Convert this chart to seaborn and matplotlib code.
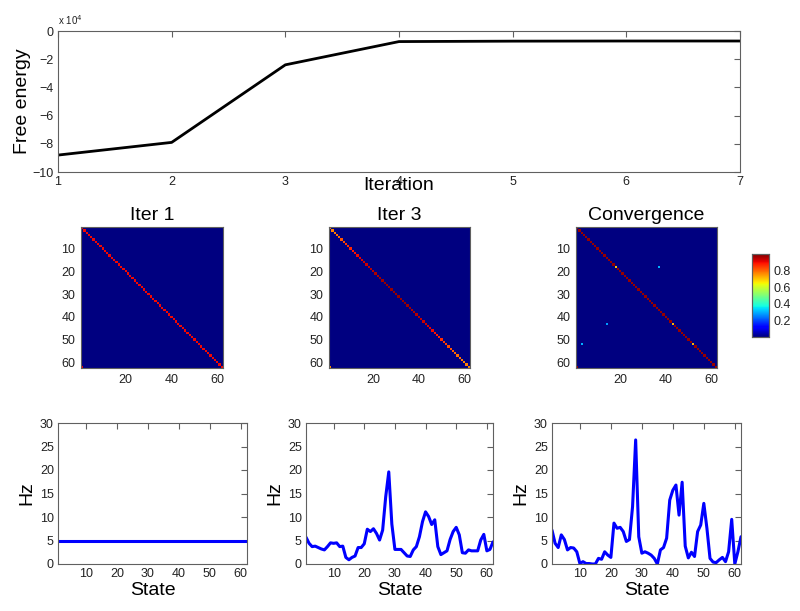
import numpy as np
import pandas as pd
import matplotlib
matplotlib.use("Agg")
import matplotlib.pyplot as plt
import seaborn as sns

# ---------------- data ----------------
iterations = [1, 2, 3, 4, 5, 6, 7]
free_energy = [-88000, -79000, -24000, -7500, -7200, -7100, -7100]

n_states = 62
states = list(range(1, n_states + 1))

hz_iter1 = [5.0] * 62
hz_iter3 = [5.7, 4.4, 3.7, 3.8, 3.5, 3.2, 3.0, 3.7, 4.5, 4.4,
            4.5, 3.7, 3.8, 1.4, 0.9, 1.4, 1.7, 3.5, 3.5, 4.3,
            7.4, 6.9, 7.5, 6.5, 5.1, 7.2, 14.3, 19.6, 8.5, 3.1,
            3.1, 3.1, 2.4, 1.7, 1.6, 3.0, 3.7, 5.8, 9.0, 11.1,
            10.1, 8.4, 9.4, 3.7, 2.0, 2.4, 2.8, 5.2, 6.9, 7.8,
            6.2, 2.4, 2.3, 3.0, 2.8, 2.8, 2.8, 5.1, 6.3, 2.8,
            3.1, 4.7]
hz_conv = [7.2, 4.4, 3.5, 6.2, 5.2, 3.0, 3.5, 3.4, 2.6, 0.1,
           0.5, 0.1, 0.1, 0.0, 0.0, 1.2, 1.0, 2.6, 1.9, 1.4,
           8.7, 7.6, 7.8, 6.9, 4.8, 5.2, 12.2, 26.4, 5.8, 2.3,
           2.6, 2.3, 1.9, 1.2, 0.0, 3.0, 3.5, 5.5, 13.6, 15.7,
           16.8, 10.4, 17.4, 3.8, 1.3, 2.5, 1.6, 6.9, 8.3, 12.9,
           7.6, 1.2, 0.4, 0.3, 0.9, 1.4, 0.5, 2.6, 9.5, 0.0,
           2.6, 5.8]

diag_iter1 = [0.9] * 62
diag_iter3 = [0.76, 0.77, 0.78, 0.79, 0.8, 0.82, 0.83, 0.85, 0.86, 0.87,
              0.88, 0.89, 0.9, 0.91, 0.92, 0.93, 0.93, 0.94, 0.95, 0.95,
              0.96, 0.96, 0.97, 0.97, 0.98, 0.98, 0.98, 0.98, 0.98, 0.98,
              0.98, 0.98, 0.98, 0.98, 0.97, 0.97, 0.96, 0.96, 0.95, 0.95,
              0.94, 0.93, 0.93, 0.92, 0.91, 0.9, 0.89, 0.88, 0.87, 0.86,
              0.85, 0.84, 0.83, 0.82, 0.81, 0.8, 0.79, 0.79, 0.78, 0.77,
              0.77, 0.76]
diag_conv = [0.98] * 62
conv_special_states = [18, 43, 52]
conv_special_diag = [0.7, 0.72, 0.72]
conv_offdiag_rows = [18, 43, 52]
conv_offdiag_cols = [37, 14, 3]
conv_offdiag_vals = [0.3, 0.28, 0.3]
corner_iter1 = 0.9
corner_iter3 = 0.76
corner_conv = 0.98


def build_matrix(diag, corner, rows=(), cols=(), vals=()):
    m = np.zeros((n_states, n_states))
    m[np.arange(n_states), np.arange(n_states)] = diag
    m[n_states - 1, 0] = corner
    for r, c, v in zip(rows, cols, vals):
        m[r - 1, c - 1] = v
    return m


diag_c = list(diag_conv)
for s, v in zip(conv_special_states, conv_special_diag):
    diag_c[s - 1] = v
mat1 = build_matrix(diag_iter1, corner_iter1)
mat3 = build_matrix(diag_iter3, corner_iter3)
matc = build_matrix(diag_c, corner_conv, conv_offdiag_rows, conv_offdiag_cols, conv_offdiag_vals)

# ---------------- style ----------------
sns.set_style("white")
plt.rcParams["font.family"] = ["Liberation Sans", "DejaVu Sans"]
spine_col = "#606060"
text_col = "#222222"
tick_fs = 9

fig = plt.figure(figsize=(8, 6.11), dpi=100)
W, H = 800, 611


def ax_px(l, t, r, b):
    return fig.add_axes([l / W, 1 - b / H, (r - l) / W, (b - t) / H])


def style_axes(ax):
    for sp in ax.spines.values():
        sp.set_color(spine_col)
        sp.set_linewidth(0.8)
        sp.set_visible(True)
    ax.tick_params(direction="in", top=True, right=True, length=4,
                   width=0.8, color=spine_col, labelsize=tick_fs, labelcolor=text_col, pad=3)


# ---------------- top: free energy ----------------
ax0 = ax_px(58, 31, 740, 172)
df_fe = pd.DataFrame({"Iteration": iterations,
                      "FE": np.array(free_energy) / 1e4})
sns.lineplot(data=df_fe, x="Iteration", y="FE", ax=ax0, color="black", linewidth=2)
ax0.set_xlim(1, 7)
ax0.set_ylim(-10, 0)
ax0.set_xticks(iterations)
ax0.set_yticks([-10, -8, -6, -4, -2, 0])
style_axes(ax0)
ax0.set_xlabel("Iteration", fontsize=14, color="black")
ax0.xaxis.set_label_coords(0.5, -0.035)
ax0.set_ylabel("Free energy", fontsize=14, color="black", labelpad=1)
ax0.text(0.0, 1.03, r"x 10$^{4}$", transform=ax0.transAxes, fontsize=7,
         color=text_col, ha="left", va="bottom")

# ---------------- middle: heatmaps ----------------
heat_axes = [ax_px(81, 227, 223, 368), ax_px(329, 227, 470, 368), ax_px(576, 227, 717, 368)]
cax = ax_px(752, 254, 769, 337)
titles = ["Iter 1", "Iter 3", "Convergence"]
mats = [mat1, mat3, matc]
for i, (ax, m, t) in enumerate(zip(heat_axes, mats, titles)):
    last = i == 2
    sns.heatmap(m, ax=ax, cmap="jet", vmin=0, vmax=1, cbar=last,
                cbar_ax=cax if last else None, square=False,
                xticklabels=False, yticklabels=False)
    ax.set_xticks([19.5, 39.5, 59.5])
    ax.set_xticklabels(["20", "40", "60"], rotation=0)
    ax.set_yticks([9.5, 19.5, 29.5, 39.5, 49.5, 59.5])
    ax.set_yticklabels(["10", "20", "30", "40", "50", "60"], rotation=0)
    style_axes(ax)
    ax.tick_params(length=0, pad=4)
    ax.set_title(t, fontsize=14, color="black", pad=5)

cb = cax
cb.set_yticks([0.2, 0.4, 0.6, 0.8])
cb.set_yticklabels(["0.2", "0.4", "0.6", "0.8"])
cb.tick_params(labelsize=tick_fs, labelcolor=text_col, length=3, direction="in",
               color=spine_col, right=True, left=True)
for sp in cb.spines.values():
    sp.set_visible(True)
    sp.set_color(spine_col)
    sp.set_linewidth(0.8)

# ---------------- bottom: firing rates ----------------
bottom_axes = [ax_px(58, 423, 247, 564), ax_px(306, 423, 493, 564), ax_px(552, 423, 741, 564)]
series = [hz_iter1, hz_iter3, hz_conv]
for ax, y in zip(bottom_axes, series):
    d = pd.DataFrame({"State": states, "Hz": y})
    sns.lineplot(data=d, x="State", y="Hz", ax=ax, color="#0000ff", linewidth=2.2)
    ax.set_xlim(1, 62)
    ax.set_ylim(0, 30)
    ax.set_xticks([10, 20, 30, 40, 50, 60])
    ax.set_yticks([0, 5, 10, 15, 20, 25, 30])
    style_axes(ax)
    ax.set_xlabel("State", fontsize=14, color="black", labelpad=1)
    ax.set_ylabel("Hz", fontsize=14, color="black", labelpad=3)

fig.savefig("out.png", dpi=100)
